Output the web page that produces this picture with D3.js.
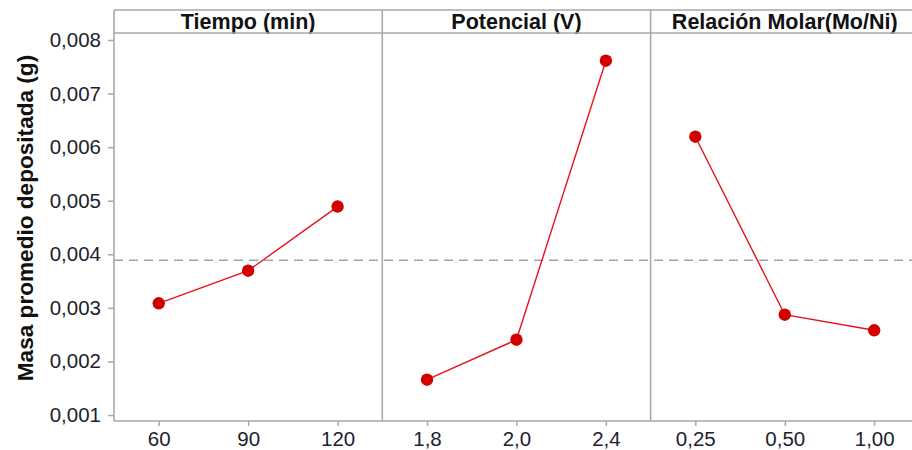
<!DOCTYPE html>
<html>
<head>
<meta charset="utf-8">
<script src="https://cdn.jsdelivr.net/npm/d3@7"></script>
<style>
  html, body { margin: 0; padding: 0; background: #fff; }
  svg { display: block; font-family: "Liberation Sans", Arial, sans-serif; }
</style>
</head>
<body>
<svg id="chart" width="912" height="450"></svg>
<script>
// Main effects plot: mean deposited mass per factor level
const factors = ["Tiempo (min)", "Potencial (V)", "Relación Molar(Mo/Ni)"];

const tiempoLevels = ["60", "90", "120"];
const tiempoMeans = [0.003085, 0.003694, 0.004891];

const potencialLevels = ["1,8", "2,0", "2,4"];
const potencialMeans = [0.001659, 0.002405, 0.007614];

const relacionLevels = ["0,25", "0,50", "1,00"];
const relacionMeans = [0.006195, 0.002872, 0.002581];

const yTicks = [0.001, 0.002, 0.003, 0.004, 0.005, 0.006, 0.007, 0.008];
const yLabel = "Masa promedio depositada (g)";

const panels = [
  { title: factors[0], levels: tiempoLevels, means: tiempoMeans },
  { title: factors[1], levels: potencialLevels, means: potencialMeans },
  { title: factors[2], levels: relacionLevels, means: relacionMeans }
];

const grandMean = d3.mean(panels.flatMap(p => p.means));

const svg = d3.select("#chart");
const frameColor = "#a9a9a9";
const textColor = "#1e1e2e";

const frameLeft = 114, frameTop = 10, stripH = 23, plotBottom = 421;
const panelW = 268.3;
const plotTop = frameTop + stripH;

const locale = d3.formatLocale({ decimal: ",", thousands: ".", grouping: [3], currency: ["", ""] });
const fmt = locale.format(".3f");

const y = d3.scaleLinear().domain([0.000888, 0.008131]).range([plotBottom, plotTop]);

// y axis ticks and labels
const yAxis = d3.axisLeft(y).tickValues(yTicks).tickFormat(fmt).tickSize(6).tickPadding(7);
const yg = svg.append("g").attr("transform", `translate(${frameLeft},0)`).call(yAxis);
yg.select(".domain").remove();
yg.selectAll(".tick line").attr("stroke", frameColor).attr("stroke-width", 1.5);
yg.selectAll(".tick text").attr("fill", textColor).style("font-size", "20.5px")
  .style("font-family", "'Liberation Sans', Arial, sans-serif");

// y axis title
svg.append("text")
  .attr("transform", `translate(32.5,218) rotate(-90)`)
  .attr("text-anchor", "middle")
  .style("font-size", "22.6px").style("font-weight", "bold")
  .attr("fill", "#111")
  .text(yLabel);

// mean reference line across all panels
svg.append("line")
  .attr("x1", frameLeft).attr("x2", 912)
  .attr("y1", y(grandMean)).attr("y2", y(grandMean))
  .attr("stroke", "#a3a3a3").attr("stroke-width", 1.5)
  .attr("stroke-dasharray", "9,6");

panels.forEach((p, i) => {
  const x0 = frameLeft + i * panelW;
  const x = d3.scalePoint().domain(p.levels).range([x0, x0 + panelW]).padding(0.5);

  const xAxis = d3.axisBottom(x).tickSize(5).tickPadding(5);
  const xg = svg.append("g").attr("transform", `translate(0,${plotBottom})`).call(xAxis);
  xg.select(".domain").remove();
  xg.selectAll(".tick line").attr("stroke", frameColor).attr("stroke-width", 1.5);
  xg.selectAll(".tick text").attr("fill", textColor).style("font-size", "20.5px")
    .style("font-family", "'Liberation Sans', Arial, sans-serif");

  // strip title
  svg.append("text")
    .attr("x", x0 + panelW / 2).attr("y", frameTop + 18.5)
    .attr("text-anchor", "middle")
    .style("font-size", "21.5px").style("font-weight", "bold")
    .attr("fill", "#111")
    .text(p.title);

  const pts = p.levels.map((l, j) => [x(l), y(p.means[j])]);
  svg.append("path")
    .attr("d", d3.line()(pts))
    .attr("fill", "none").attr("stroke", "#e8121c").attr("stroke-width", 1.4);

  svg.append("g").selectAll("circle").data(pts).join("circle")
    .attr("cx", d => d[0]).attr("cy", d => d[1]).attr("r", 6.2)
    .attr("fill", "#d30000");

  // panel divider
  if (i > 0) {
    svg.append("line")
      .attr("x1", x0).attr("x2", x0).attr("y1", frameTop).attr("y2", plotBottom)
      .attr("stroke", frameColor).attr("stroke-width", 1.6);
  }
});

// outer frame and strip separator
const frame = svg.append("g").attr("stroke", frameColor).attr("stroke-width", 1.6).attr("fill", "none");
frame.append("line").attr("x1", frameLeft).attr("x2", 912).attr("y1", frameTop).attr("y2", frameTop);
frame.append("line").attr("x1", frameLeft).attr("x2", 912).attr("y1", plotTop).attr("y2", plotTop);
frame.append("line").attr("x1", frameLeft).attr("x2", 912).attr("y1", plotBottom).attr("y2", plotBottom);
frame.append("line").attr("x1", frameLeft).attr("x2", frameLeft).attr("y1", frameTop).attr("y2", plotBottom);
</script>
</body>
</html>
